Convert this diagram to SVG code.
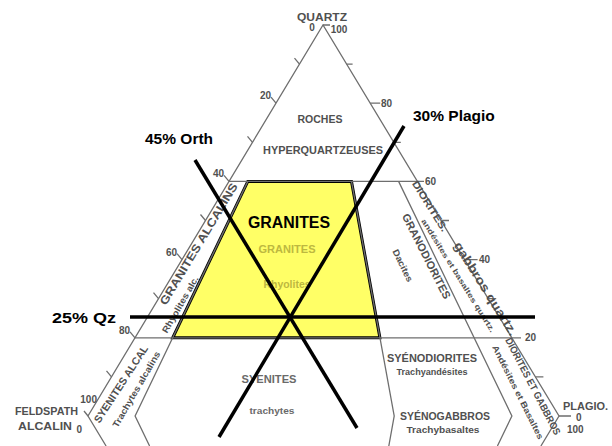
<svg xmlns="http://www.w3.org/2000/svg" width="612" height="446" viewBox="0 0 612 446">
<style>
.g{stroke:#6e6e6e;stroke-width:1.3;fill:none}
.k{stroke:#000;stroke-width:3.5;fill:none;stroke-linecap:butt}
.t{font-family:"Liberation Sans",Arial,sans-serif;font-weight:bold;fill:#505050}
.a{font-family:"Liberation Sans",Arial,sans-serif;font-weight:bold;fill:#000}
</style>
<rect width="612" height="446" fill="#fff"/>
<g id="granites-field">
<polygon points="247.8,181.4 351.5,181.4 379.9,337.8 172.7,337.8" fill="#ffff66" stroke="#000" stroke-width="3"/>
</g>
<g id="frame" class="g">
<polyline points="106.1,446 88,416 323,25 559,416 540.9,446"/>
<line x1="229" y1="181.4" x2="424" y2="181.4"/>
<line x1="135" y1="337.8" x2="521" y2="337.8"/>
<polyline points="247.8,181.4 135.1,416 149.6,446"/>
<polyline points="351.5,181.4 394.2,416 388.8,446"/>
<polyline points="398.6,181.4 511.9,416 497.4,446"/>
<path d="M323,25 h7 M299.5,64.1 l-5,-6 M276,103.2 l-5,-6 M252.5,142.3 l-5,-6 M229,181.4 l-5,-6 M205.5,220.5 l-5,-6 M182,259.6 l-5,-6 M158.5,298.7 l-5,-6 M135,337.8 l-5,-6 M111.5,376.9 l-5,-6 M88,416 l-4,-5"/>
<path d="M346.6,64.1 h6 M370.2,103.2 h10 M393.8,142.3 h7 M441,220.5 h8 M464.6,259.6 h13 M488.2,298.7 h8 M535.4,376.9 h8 M559,416 h12"/>
</g>
<g id="scale-labels" class="t" font-size="10">
<text x="322" y="21" text-anchor="middle" textLength="50" lengthAdjust="spacingAndGlyphs">QUARTZ</text>
<text x="312" y="31" text-anchor="middle">0</text>
<text x="339" y="33" text-anchor="middle">100</text>
<text x="271" y="99" text-anchor="end">20</text>
<text x="224" y="177" text-anchor="end">40</text>
<text x="177" y="255.6" text-anchor="end">60</text>
<text x="130" y="333.8" text-anchor="end">80</text>
<text x="97" y="403" text-anchor="end">100</text>
<text x="82" y="433" text-anchor="end">0</text>
<text x="381" y="106.5">80</text>
<text x="425" y="185">60</text>
<text x="479" y="263">40</text>
<text x="525" y="341">20</text>
<text x="15" y="415" textLength="63" lengthAdjust="spacingAndGlyphs">FELDSPATH</text>
<text x="18" y="430" textLength="54" lengthAdjust="spacingAndGlyphs">ALCALIN</text>
<text x="563" y="410" textLength="45" lengthAdjust="spacingAndGlyphs">PLAGIO.</text>
<text x="576" y="421">0</text>
<text x="567" y="433">100</text>
</g>
<g id="hyperquartzeuses" class="t" font-size="10.5" text-anchor="middle">
<text x="320" y="123" textLength="45" lengthAdjust="spacingAndGlyphs">ROCHES</text>
<text x="323" y="154" textLength="120" lengthAdjust="spacingAndGlyphs">HYPERQUARTZEUSES</text>
</g>
<g id="granites-alcalins" class="t" text-anchor="middle">
<text transform="translate(202,246) rotate(-59)" font-size="11.5" textLength="140" lengthAdjust="spacingAndGlyphs">GRANITES ALCALINS</text>
<text transform="translate(183,306) rotate(-60)" font-size="9" textLength="64" lengthAdjust="spacingAndGlyphs">Rhyolites alc.</text>
</g>
<g id="granites" text-anchor="middle">
<text class="a" x="289" y="228" font-size="16" textLength="82" lengthAdjust="spacingAndGlyphs">GRANITES</text>
<text class="t" x="287" y="253" font-size="11" style="fill:#bdb840" textLength="57" lengthAdjust="spacingAndGlyphs">GRANITES</text>
<text class="t" x="287" y="288" font-size="10" style="fill:#bdb840" textLength="47" lengthAdjust="spacingAndGlyphs">Rhyolites</text>
</g>
<g id="granodiorites" class="t" text-anchor="middle">
<text transform="translate(423,258) rotate(63)" font-size="11" textLength="94" lengthAdjust="spacingAndGlyphs">GRANODIORITES</text>
<text transform="translate(400,267) rotate(64)" font-size="9" textLength="35" lengthAdjust="spacingAndGlyphs">Dacites</text>
</g>
<g id="diorites-quartz" class="t" text-anchor="middle">
<text transform="translate(427,208) rotate(58)" font-size="10" textLength="58" lengthAdjust="spacingAndGlyphs">DIORITES.</text>
<text transform="translate(482,291) rotate(58)" font-size="12.5" textLength="108" lengthAdjust="spacingAndGlyphs">gabbros quartz.</text>
<text transform="translate(456,277) rotate(58)" font-size="7.5" textLength="132" lengthAdjust="spacingAndGlyphs">andésites et basaltes quartz.</text>
</g>
<g id="syenites-alcalines" class="t" text-anchor="middle">
<text transform="translate(124,386) rotate(-57)" font-size="10.5" textLength="90" lengthAdjust="spacingAndGlyphs">SYENITES ALCAL</text>
<text transform="translate(139,391) rotate(-60)" font-size="9" textLength="86" lengthAdjust="spacingAndGlyphs">Trachytes alcalins</text>
</g>
<g id="syenites" class="t" text-anchor="middle">
<text x="269" y="383" font-size="11" style="fill:#6a6a6a" textLength="55" lengthAdjust="spacingAndGlyphs">SYENITES</text>
<text x="272" y="414" font-size="9.5" style="fill:#6a6a6a" textLength="45" lengthAdjust="spacingAndGlyphs">trachytes</text>
</g>
<g id="syenodiorites" class="t" text-anchor="middle">
<text x="432" y="362" font-size="11" textLength="90" lengthAdjust="spacingAndGlyphs">SYÉNODIORITES</text>
<text x="432" y="375" font-size="9" textLength="71" lengthAdjust="spacingAndGlyphs">Trachyandésites</text>
<text x="445" y="420" font-size="11" textLength="90" lengthAdjust="spacingAndGlyphs">SYÉNOGABBROS</text>
<text x="443" y="433" font-size="9" textLength="73" lengthAdjust="spacingAndGlyphs">Trachybasaltes</text>
</g>
<g id="diorites-gabbros" class="t">
<text transform="translate(505,340) rotate(62.5)" font-size="10" textLength="108" lengthAdjust="spacingAndGlyphs">DIORITES ET GABBROS</text>
<text transform="translate(492,347) rotate(63.5)" font-size="8.5" textLength="104" lengthAdjust="spacingAndGlyphs">Andésites et Basaltes</text>
</g>
<g id="connectors" class="k">
<line x1="130" y1="317" x2="535" y2="317"/>
<line x1="195" y1="160" x2="357" y2="428"/>
<line x1="404" y1="126" x2="219" y2="437"/>
</g>
<g id="annotations" class="a" font-size="15.5">
<text x="145" y="144">45% Orth</text>
<text x="413" y="121">30% Plagio</text>
<text x="52" y="323" textLength="64" lengthAdjust="spacingAndGlyphs">25% Qz</text>
</g>
</svg>
